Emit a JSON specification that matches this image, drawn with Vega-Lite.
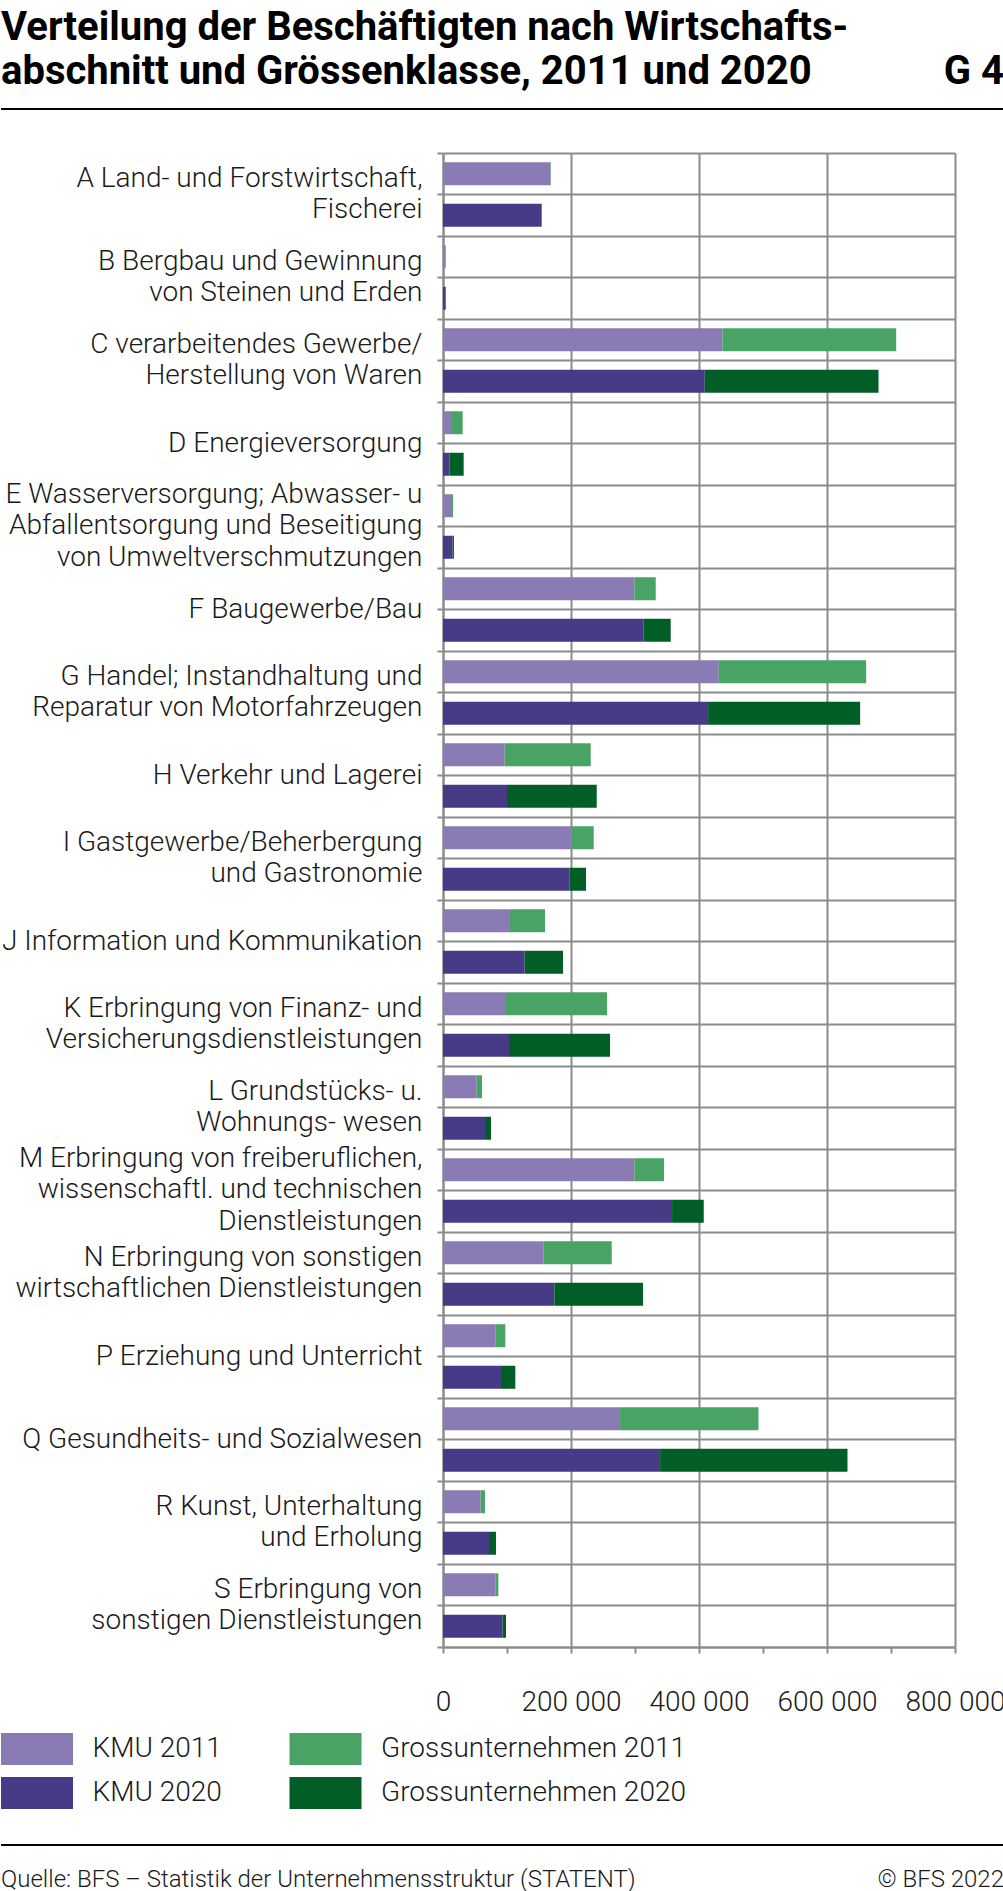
{
  "$schema": "https://vega.github.io/schema/vega-lite/v6.json",
  "background": "white",
  "padding": {"left": 0, "top": 8, "right": 0, "bottom": 0},
  "autosize": {"type": "pad"},
  "spacing": 34,
  "config": {"view": {"stroke": null}, "font": "Roboto"},
  "datasets": {
    "rows": [
      {"cat": "A Land- und Forstwirtschaft,\nFischerei", "year": "2011", "type": "KMU", "series": "KMU 2011", "value": 168200},
      {"cat": "A Land- und Forstwirtschaft,\nFischerei", "year": "2011", "type": "Gross", "series": "Grossunternehmen 2011", "value": 500},
      {"cat": "A Land- und Forstwirtschaft,\nFischerei", "year": "2020", "type": "KMU", "series": "KMU 2020", "value": 153200},
      {"cat": "A Land- und Forstwirtschaft,\nFischerei", "year": "2020", "type": "Gross", "series": "Grossunternehmen 2020", "value": 1000},
      {"cat": "B Bergbau und Gewinnung\nvon Steinen und Erden", "year": "2011", "type": "KMU", "series": "KMU 2011", "value": 4000},
      {"cat": "B Bergbau und Gewinnung\nvon Steinen und Erden", "year": "2011", "type": "Gross", "series": "Grossunternehmen 2011", "value": 600},
      {"cat": "B Bergbau und Gewinnung\nvon Steinen und Erden", "year": "2020", "type": "KMU", "series": "KMU 2020", "value": 3800},
      {"cat": "B Bergbau und Gewinnung\nvon Steinen und Erden", "year": "2020", "type": "Gross", "series": "Grossunternehmen 2020", "value": 800},
      {"cat": "C verarbeitendes Gewerbe/\nHerstellung von Waren", "year": "2011", "type": "KMU", "series": "KMU 2011", "value": 436600},
      {"cat": "C verarbeitendes Gewerbe/\nHerstellung von Waren", "year": "2011", "type": "Gross", "series": "Grossunternehmen 2011", "value": 271500},
      {"cat": "C verarbeitendes Gewerbe/\nHerstellung von Waren", "year": "2020", "type": "KMU", "series": "KMU 2020", "value": 409000},
      {"cat": "C verarbeitendes Gewerbe/\nHerstellung von Waren", "year": "2020", "type": "Gross", "series": "Grossunternehmen 2020", "value": 271500},
      {"cat": "D Energieversorgung", "year": "2011", "type": "KMU", "series": "KMU 2011", "value": 12400},
      {"cat": "D Energieversorgung", "year": "2011", "type": "Gross", "series": "Grossunternehmen 2011", "value": 18300},
      {"cat": "D Energieversorgung", "year": "2020", "type": "KMU", "series": "KMU 2020", "value": 10400},
      {"cat": "D Energieversorgung", "year": "2020", "type": "Gross", "series": "Grossunternehmen 2020", "value": 21900},
      {"cat": "E Wasserversorgung; Abwasser- u\nAbfallentsorgung und Beseitigung\nvon Umweltverschmutzungen", "year": "2011", "type": "KMU", "series": "KMU 2011", "value": 14000},
      {"cat": "E Wasserversorgung; Abwasser- u\nAbfallentsorgung und Beseitigung\nvon Umweltverschmutzungen", "year": "2011", "type": "Gross", "series": "Grossunternehmen 2011", "value": 1600},
      {"cat": "E Wasserversorgung; Abwasser- u\nAbfallentsorgung und Beseitigung\nvon Umweltverschmutzungen", "year": "2020", "type": "KMU", "series": "KMU 2020", "value": 15000},
      {"cat": "E Wasserversorgung; Abwasser- u\nAbfallentsorgung und Beseitigung\nvon Umweltverschmutzungen", "year": "2020", "type": "Gross", "series": "Grossunternehmen 2020", "value": 2100},
      {"cat": "F Baugewerbe/Bau", "year": "2011", "type": "KMU", "series": "KMU 2011", "value": 299000},
      {"cat": "F Baugewerbe/Bau", "year": "2011", "type": "Gross", "series": "Grossunternehmen 2011", "value": 33400},
      {"cat": "F Baugewerbe/Bau", "year": "2020", "type": "KMU", "series": "KMU 2020", "value": 313100},
      {"cat": "F Baugewerbe/Bau", "year": "2020", "type": "Gross", "series": "Grossunternehmen 2020", "value": 42700},
      {"cat": "G Handel; Instandhaltung und\nReparatur von Motorfahrzeugen", "year": "2011", "type": "KMU", "series": "KMU 2011", "value": 430900},
      {"cat": "G Handel; Instandhaltung und\nReparatur von Motorfahrzeugen", "year": "2011", "type": "Gross", "series": "Grossunternehmen 2011", "value": 230300},
      {"cat": "G Handel; Instandhaltung und\nReparatur von Motorfahrzeugen", "year": "2020", "type": "KMU", "series": "KMU 2020", "value": 414200},
      {"cat": "G Handel; Instandhaltung und\nReparatur von Motorfahrzeugen", "year": "2020", "type": "Gross", "series": "Grossunternehmen 2020", "value": 237600},
      {"cat": "H Verkehr und Lagerei", "year": "2011", "type": "KMU", "series": "KMU 2011", "value": 96400},
      {"cat": "H Verkehr und Lagerei", "year": "2011", "type": "Gross", "series": "Grossunternehmen 2011", "value": 134400},
      {"cat": "H Verkehr und Lagerei", "year": "2020", "type": "KMU", "series": "KMU 2020", "value": 100000},
      {"cat": "H Verkehr und Lagerei", "year": "2020", "type": "Gross", "series": "Grossunternehmen 2020", "value": 140200},
      {"cat": "I Gastgewerbe/Beherbergung\nund Gastronomie", "year": "2011", "type": "KMU", "series": "KMU 2011", "value": 201600},
      {"cat": "I Gastgewerbe/Beherbergung\nund Gastronomie", "year": "2011", "type": "Gross", "series": "Grossunternehmen 2011", "value": 33900},
      {"cat": "I Gastgewerbe/Beherbergung\nund Gastronomie", "year": "2020", "type": "KMU", "series": "KMU 2020", "value": 197400},
      {"cat": "I Gastgewerbe/Beherbergung\nund Gastronomie", "year": "2020", "type": "Gross", "series": "Grossunternehmen 2020", "value": 26100},
      {"cat": "J Information und Kommunikation", "year": "2011", "type": "KMU", "series": "KMU 2011", "value": 104700},
      {"cat": "J Information und Kommunikation", "year": "2011", "type": "Gross", "series": "Grossunternehmen 2011", "value": 54700},
      {"cat": "J Information und Kommunikation", "year": "2020", "type": "KMU", "series": "KMU 2020", "value": 127600},
      {"cat": "J Information und Kommunikation", "year": "2020", "type": "Gross", "series": "Grossunternehmen 2020", "value": 59900},
      {"cat": "K Erbringung von Finanz- und\nVersicherungsdienstleistungen", "year": "2011", "type": "KMU", "series": "KMU 2011", "value": 96900},
      {"cat": "K Erbringung von Finanz- und\nVersicherungsdienstleistungen", "year": "2011", "type": "Gross", "series": "Grossunternehmen 2011", "value": 159400},
      {"cat": "K Erbringung von Finanz- und\nVersicherungsdienstleistungen", "year": "2020", "type": "KMU", "series": "KMU 2020", "value": 103100},
      {"cat": "K Erbringung von Finanz- und\nVersicherungsdienstleistungen", "year": "2020", "type": "Gross", "series": "Grossunternehmen 2020", "value": 157900},
      {"cat": "L Grundstücks- u.\nWohnungs- wesen", "year": "2011", "type": "KMU", "series": "KMU 2011", "value": 52600},
      {"cat": "L Grundstücks- u.\nWohnungs- wesen", "year": "2011", "type": "Gross", "series": "Grossunternehmen 2011", "value": 8300},
      {"cat": "L Grundstücks- u.\nWohnungs- wesen", "year": "2020", "type": "KMU", "series": "KMU 2020", "value": 65600},
      {"cat": "L Grundstücks- u.\nWohnungs- wesen", "year": "2020", "type": "Gross", "series": "Grossunternehmen 2020", "value": 9400},
      {"cat": "M Erbringung von freiberuflichen,\nwissenschaftl. und technischen\nDienstleistungen", "year": "2011", "type": "KMU", "series": "KMU 2011", "value": 299000},
      {"cat": "M Erbringung von freiberuflichen,\nwissenschaftl. und technischen\nDienstleistungen", "year": "2011", "type": "Gross", "series": "Grossunternehmen 2011", "value": 46400},
      {"cat": "M Erbringung von freiberuflichen,\nwissenschaftl. und technischen\nDienstleistungen", "year": "2020", "type": "KMU", "series": "KMU 2020", "value": 357900},
      {"cat": "M Erbringung von freiberuflichen,\nwissenschaftl. und technischen\nDienstleistungen", "year": "2020", "type": "Gross", "series": "Grossunternehmen 2020", "value": 49500},
      {"cat": "N Erbringung von sonstigen\nwirtschaftlichen Dienstleistungen", "year": "2011", "type": "KMU", "series": "KMU 2011", "value": 156800},
      {"cat": "N Erbringung von sonstigen\nwirtschaftlichen Dienstleistungen", "year": "2011", "type": "Gross", "series": "Grossunternehmen 2011", "value": 106800},
      {"cat": "N Erbringung von sonstigen\nwirtschaftlichen Dienstleistungen", "year": "2020", "type": "KMU", "series": "KMU 2020", "value": 174000},
      {"cat": "N Erbringung von sonstigen\nwirtschaftlichen Dienstleistungen", "year": "2020", "type": "Gross", "series": "Grossunternehmen 2020", "value": 138600},
      {"cat": "P Erziehung und Unterricht", "year": "2011", "type": "KMU", "series": "KMU 2011", "value": 81800},
      {"cat": "P Erziehung und Unterricht", "year": "2011", "type": "Gross", "series": "Grossunternehmen 2011", "value": 15600},
      {"cat": "P Erziehung und Unterricht", "year": "2020", "type": "KMU", "series": "KMU 2020", "value": 90600},
      {"cat": "P Erziehung und Unterricht", "year": "2020", "type": "Gross", "series": "Grossunternehmen 2020", "value": 22400},
      {"cat": "Q Gesundheits- und Sozialwesen", "year": "2011", "type": "KMU", "series": "KMU 2011", "value": 276600},
      {"cat": "Q Gesundheits- und Sozialwesen", "year": "2011", "type": "Gross", "series": "Grossunternehmen 2011", "value": 216300},
      {"cat": "Q Gesundheits- und Sozialwesen", "year": "2020", "type": "KMU", "series": "KMU 2020", "value": 339200},
      {"cat": "Q Gesundheits- und Sozialwesen", "year": "2020", "type": "Gross", "series": "Grossunternehmen 2020", "value": 292800},
      {"cat": "R Kunst, Unterhaltung\nund Erholung", "year": "2011", "type": "KMU", "series": "KMU 2011", "value": 58800},
      {"cat": "R Kunst, Unterhaltung\nund Erholung", "year": "2011", "type": "Gross", "series": "Grossunternehmen 2011", "value": 6800},
      {"cat": "R Kunst, Unterhaltung\nund Erholung", "year": "2020", "type": "KMU", "series": "KMU 2020", "value": 71900},
      {"cat": "R Kunst, Unterhaltung\nund Erholung", "year": "2020", "type": "Gross", "series": "Grossunternehmen 2020", "value": 10900},
      {"cat": "S Erbringung von\nsonstigen Dienstleistungen", "year": "2011", "type": "KMU", "series": "KMU 2011", "value": 81800},
      {"cat": "S Erbringung von\nsonstigen Dienstleistungen", "year": "2011", "type": "Gross", "series": "Grossunternehmen 2011", "value": 4700},
      {"cat": "S Erbringung von\nsonstigen Dienstleistungen", "year": "2020", "type": "KMU", "series": "KMU 2020", "value": 93200},
      {"cat": "S Erbringung von\nsonstigen Dienstleistungen", "year": "2020", "type": "Gross", "series": "Grossunternehmen 2020", "value": 5200}
    ]
  },
  "vconcat": [
    {
      "width": 1003,
      "height": 18,
      "data": {"values": [{"title": "Verteilung der Beschäftigten nach Wirtschafts-\nabschnitt und Grössenklasse, 2011 und 2020", "num": "G 4"}]},
      "layer": [
        {
          "mark": {"type": "rule", "color": "#000000", "strokeWidth": 2},
          "encoding": {
            "x": {"datum": 0, "type": "quantitative", "scale": {"domain": [0, 1], "nice": false, "zero": false}, "axis": null},
            "x2": {"datum": 1}
          }
        },
        {
          "mark": {"type": "text", "align": "left", "baseline": "alphabetic", "dy": -69, "lineBreak": "\n", "lineHeight": 44, "font": "Roboto", "fontSize": 40, "fontWeight": "bold", "color": "#000000"},
          "encoding": {
            "x": {"datum": 0, "type": "quantitative"},
            "text": {"field": "title"}
          }
        },
        {
          "mark": {"type": "text", "align": "right", "baseline": "alphabetic", "dy": -25, "font": "Roboto", "fontSize": 40, "fontWeight": "bold", "color": "#000000"},
          "encoding": {
            "x": {"datum": 1, "type": "quantitative"},
            "text": {"field": "num"}
          }
        }
      ]
    },
    {
      "hconcat": [
        {
          "width": 442,
          "height": 0,
          "data": {"values": []},
          "mark": "rule",
          "encoding": {}
        },
        {
          "width": 512,
          "height": 1494,
          "data": {"name": "rows"},
          "layer": [
            {
              "mark": {"type": "bar"},
              "encoding": {
                "y": {
                  "field": "cat", "type": "nominal", "sort": null,
                  "scale": {"paddingInner": 0, "paddingOuter": 0},
                  "axis": {
                    "orient": "left", "title": null, "labelExpr": "split(datum.label, '\\n')",
                    "labelFont": "Roboto", "labelFontSize": 28, "labelFontWeight": 300, "labelColor": "#1a1a1a",
                    "labelLineHeight": 31.4, "labelPadding": 15, "labelLimit": 0,
                    "labelOffset": {
                      "condition": [
                        {"test": "length(split(datum.value, '\\n')) === 3", "value": -31.4},
                        {"test": "length(split(datum.value, '\\n')) === 2", "value": -15.7}
                      ],
                      "value": 0
                    },
                    "tickSize": 6, "tickColor": "#8c8c8c", "tickWidth": 2,
                    "domainColor": "#8c8c8c", "domainWidth": 2,
                    "grid": true, "gridColor": "#8c8c8c", "gridWidth": 2, "tickBand": "center"
                  }
                },
                "yOffset": {"field": "year", "type": "nominal", "sort": ["2011", "2020"], "scale": {"paddingInner": 0.446, "paddingOuter": 0.223}},
                "x": {
                  "field": "value", "type": "quantitative", "stack": "zero",
                  "scale": {"domain": [0, 800000], "nice": false},
                  "axis": {
                    "title": null,
                    "values": [0, 100000, 200000, 300000, 400000, 500000, 600000, 700000, 800000],
                    "labelExpr": "datum.value % 200000 === 0 ? replace(format(datum.value, ','), ',', ' ') : ''",
                    "labelFont": "Roboto", "labelFontSize": 28, "labelFontWeight": 300, "labelColor": "#1a1a1a",
                    "labelPadding": 35, "labelFlush": false, "labelOverlap": false,
                    "tickSize": 6, "tickColor": "#8c8c8c", "tickWidth": 2,
                    "domainColor": "#8c8c8c", "domainWidth": 2,
                    "grid": true, "gridWidth": 2,
                    "gridColor": {"condition": {"test": "datum.value % 200000 === 0", "value": "#8c8c8c"}, "value": "transparent"}
                  }
                },
                "color": {
                  "field": "series", "type": "nominal",
                  "scale": {
                    "domain": ["KMU 2011", "KMU 2020", "Grossunternehmen 2011", "Grossunternehmen 2020"],
                    "range": ["#8a7bb4", "#473a86", "#48a364", "#005e26"]
                  },
                  "legend": {
                    "orient": "none", "legendX": 0, "legendY": 1633, "columns": 2, "title": null,
                    "symbolType": "M-1,-1H3.5V1H-1Z", "symbolSize": 1024, "symbolStrokeWidth": 0, "symbolOpacity": 1,
                    "labelFont": "Roboto", "labelFontSize": 28, "labelFontWeight": 300, "labelColor": "#1a1a1a",
                    "labelOffset": 59.5, "rowPadding": 12, "columnPadding": 67.5, "padding": 0, "labelLimit": 0
                  }
                },
                "order": {"field": "type", "sort": "descending"}
              }
            },
            {
              "mark": {"type": "point", "opacity": 0},
              "encoding": {
                "y": {
                  "field": "cat", "type": "nominal", "sort": null,
                  "axis": {
                    "orient": "left", "labels": false, "title": null, "domain": false, "tickBand": "extent",
                    "tickSize": 6, "tickColor": "#8c8c8c", "tickWidth": 2,
                    "grid": true, "gridColor": "#8c8c8c", "gridWidth": 2
                  }
                }
              }
            }
          ],
          "resolve": {"axis": {"y": "independent"}}
        }
      ],
      "spacing": 0,
      "bounds": "flush"
    },
    {
      "width": 1003,
      "height": 190,
      "data": {"values": [{"src": "Quelle: BFS – Statistik der Unternehmensstruktur (STATENT)", "copy": "© BFS 2022"}]},
      "layer": [
        {
          "mark": {"type": "rule", "color": "#000000", "strokeWidth": 2},
          "encoding": {
            "x": {"datum": 0, "type": "quantitative", "scale": {"domain": [0, 1], "nice": false, "zero": false}, "axis": null},
            "x2": {"datum": 1}
          }
        },
        {
          "mark": {"type": "text", "align": "left", "baseline": "alphabetic", "dy": 42, "font": "Roboto", "fontSize": 24, "fontWeight": 300, "color": "#1a1a1a"},
          "encoding": {"x": {"datum": 0, "type": "quantitative"}, "text": {"field": "src"}}
        },
        {
          "mark": {"type": "text", "align": "right", "baseline": "alphabetic", "dy": 42, "font": "Roboto", "fontSize": 24, "fontWeight": 300, "color": "#1a1a1a"},
          "encoding": {"x": {"datum": 1, "type": "quantitative"}, "text": {"field": "copy"}}
        }
      ]
    }
  ]
}
